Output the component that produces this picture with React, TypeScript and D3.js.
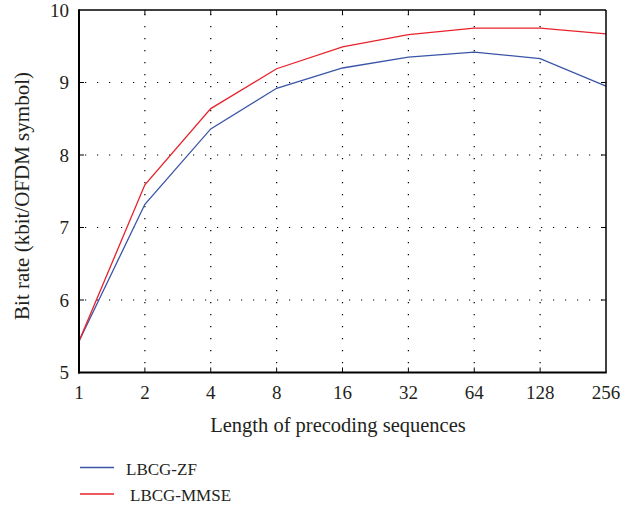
import React from "react";
import * as d3 from "d3";

const xValues = [1, 2, 4, 8, 16, 32, 64, 128, 256];
const zfValues = [5.43, 7.32, 8.36, 8.92, 9.2, 9.35, 9.42, 9.33, 8.95];
const mmseValues = [5.43, 7.59, 8.64, 9.19, 9.49, 9.66, 9.75, 9.75, 9.67];
const yTicks = [5, 6, 7, 8, 9, 10];
const seriesNames = ["LBCG-ZF", "LBCG-MMSE"];
const colors = ["#3a55a8", "#e8222b"];

const W = 635, H = 507;
const L = 79, R = 606, T = 10, B = 372.5;
const font = "'Liberation Serif', 'DejaVu Serif', serif";

export default function App() {
  const x = d3.scaleLog().base(2).domain([1, 256]).range([L, R]);
  const y = d3.scaleLinear().domain([5, 10]).range([B, T]);
  const line = d3.line<number>().x((_, i) => x(xValues[i])).y((d) => y(d));
  const series = [zfValues, mmseValues];
  return (
    <svg width={W} height={H} style={{ position: "absolute", left: 0, top: 0 }}>
      <rect width={W} height={H} fill="#fff" />
      {xValues.slice(1, -1).map((v) => (
        <g key={"gx" + v}>
          <line x1={x(v)} x2={x(v)} y1={T} y2={B} stroke="#000" strokeWidth={1.2} strokeDasharray="1.2 10.8" strokeDashoffset={-4} />
          <line x1={x(v)} x2={x(v)} y1={T} y2={T + 5} stroke="#000" strokeWidth={1} />
          <line x1={x(v)} x2={x(v)} y1={B - 5} y2={B} stroke="#000" strokeWidth={1} />
        </g>
      ))}
      {yTicks.slice(1, -1).map((v) => (
        <g key={"gy" + v}>
          <line x1={L} x2={R} y1={y(v)} y2={y(v)} stroke="#000" strokeWidth={1.2} strokeDasharray="1.2 10.8" strokeDashoffset={-6} />
          <line x1={L} x2={L + 5} y1={y(v)} y2={y(v)} stroke="#000" strokeWidth={1} />
          <line x1={R - 5} x2={R} y1={y(v)} y2={y(v)} stroke="#000" strokeWidth={1} />
        </g>
      ))}
      {series.map((s, i) => (
        <path key={i} d={line(s) || ""} fill="none" stroke={colors[i]} strokeWidth={1.3} />
      ))}
      <line x1={L} x2={R} y1={T} y2={T} stroke="#000" strokeWidth={1.5} />
      <line x1={R} x2={R} y1={T} y2={B} stroke="#000" strokeWidth={1.5} />
      <line x1={L} x2={L} y1={T - 0.75} y2={B + 1} stroke="#000" strokeWidth={2} />
      <line x1={L - 1} x2={R + 0.75} y1={B} y2={B} stroke="#000" strokeWidth={2} />
      {xValues.map((v) => (
        <text key={"xl" + v} x={x(v)} y={399} textAnchor="middle" fontFamily={font} fontSize={19} fill="#231f20">{v}</text>
      ))}
      {yTicks.map((v) => (
        <text key={"yl" + v} x={69} y={y(v) + 6.5} textAnchor="end" fontFamily={font} fontSize={19} fill="#231f20">{v}</text>
      ))}
      <text x={338} y={432} textAnchor="middle" fontFamily={font} fontSize={20.5} fill="#231f20">Length of precoding sequences</text>
      <text transform={`translate(29, 196) rotate(-90)`} textAnchor="middle" fontFamily={font} fontSize={21} fill="#231f20">Bit rate (kbit/OFDM symbol)</text>
      {seriesNames.map((n, i) => (
        <g key={n}>
          <line x1={80} x2={114} y1={467.5 + i * 26.5} y2={467.5 + i * 26.5} stroke={colors[i]} strokeWidth={1.3} />
          <text x={126 + i * 4} y={475 + i * 26} fontFamily={font} fontSize={17} fill="#231f20">{n}</text>
        </g>
      ))}
    </svg>
  );
}
